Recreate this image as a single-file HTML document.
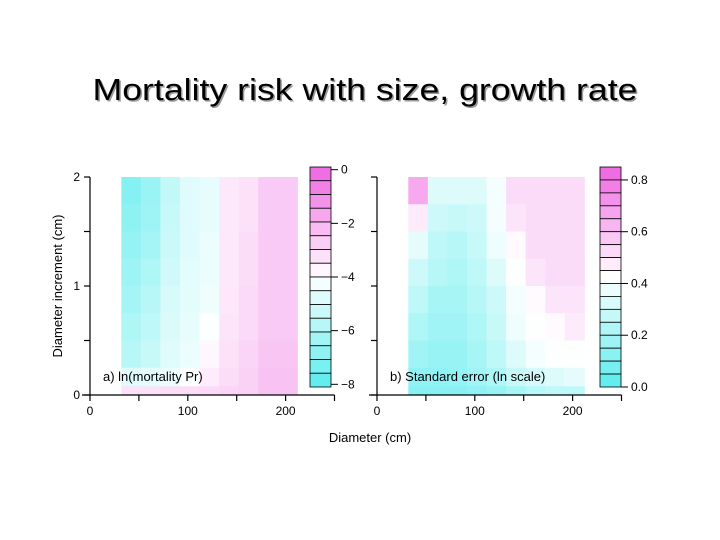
<!DOCTYPE html>
<html><head><meta charset="utf-8">
<style>
html,body{margin:0;padding:0;background:#fff;}
svg{display:block;font-family:"Liberation Sans",sans-serif;}
</style></head>
<body>
<svg id="chart" width="720" height="540" viewBox="0 0 720 540">
<text x="365" y="100" text-anchor="middle" font-size="31" fill="#999" transform="translate(1.5,1.5)" textLength="545" lengthAdjust="spacingAndGlyphs">Mortality risk with size, growth rate</text>
<text x="365" y="100" text-anchor="middle" font-size="31" fill="#000" textLength="545" lengthAdjust="spacingAndGlyphs">Mortality risk with size, growth rate</text>
<g id="pA"></g>
<g id="pB"></g>
<text x="370" y="442" text-anchor="middle" font-size="13">Diameter (cm)</text>
<text transform="translate(62,286) rotate(-90)" text-anchor="middle" font-size="13">Diameter increment (cm)</text>
</svg>
<script>
// Grid: diameter columns (cm) and increment rows (cm), top row first
const diamEdges = [32, 52, 72, 92, 112, 132, 152, 172, 192, 212];
const incEdges = [2.0, 1.75, 1.5, 1.25, 1.0, 0.75, 0.5, 0.25, 0.08, 0];
// panel a: ln(mortality Pr)
const lnMort = [
 [-7.0,-6.5,-5.5,-4.8,-4.6,-3.4,-3.2,-2.6,-2.6],
 [-6.8,-6.4,-5.4,-4.8,-4.6,-3.4,-3.2,-2.6,-2.6],
 [-6.6,-6.2,-5.3,-4.8,-4.5,-3.4,-3.1,-2.6,-2.6],
 [-6.4,-6.0,-5.2,-4.7,-4.5,-3.4,-3.1,-2.6,-2.6],
 [-6.2,-5.8,-5.0,-4.7,-4.4,-3.4,-3.0,-2.6,-2.6],
 [-6.0,-5.6,-4.9,-4.6,-4.1,-3.3,-3.0,-2.6,-2.6],
 [-5.8,-5.4,-4.8,-4.5,-3.8,-3.2,-2.9,-2.5,-2.5],
 [-4.8,-4.7,-4.5,-4.1,-3.5,-3.1,-2.8,-2.4,-2.4],
 [-3.2,-3.2,-3.1,-3.1,-3.0,-2.9,-2.8,-2.4,-2.4]
];
// panel b: standard error (ln scale)
const stdErr = [
 [0.66,0.34,0.34,0.34,0.40,0.52,0.52,0.52,0.52],
 [0.48,0.30,0.28,0.30,0.40,0.50,0.52,0.52,0.52],
 [0.36,0.26,0.24,0.28,0.38,0.44,0.52,0.52,0.52],
 [0.30,0.24,0.22,0.26,0.34,0.42,0.50,0.52,0.52],
 [0.26,0.20,0.20,0.24,0.30,0.40,0.44,0.50,0.50],
 [0.22,0.18,0.18,0.22,0.28,0.38,0.42,0.44,0.48],
 [0.18,0.16,0.16,0.20,0.26,0.34,0.40,0.42,0.42],
 [0.14,0.14,0.15,0.18,0.22,0.28,0.32,0.34,0.36],
 [0.12,0.12,0.12,0.14,0.16,0.20,0.24,0.26,0.26]
];
const xTicks = [0, 100, 200];
const aTicks = [0, -2, -4, -6, -8];
const bTicks = [0.8, 0.6, 0.4, 0.2, 0.0];

const NS = "http://www.w3.org/2000/svg";
function el(tag, attrs, parent){const e=document.createElementNS(NS,tag);for(const k in attrs)e.setAttribute(k,attrs[k]);parent.appendChild(e);return e;}
function mix(a,b,t){return 'rgb('+a.map((v,i)=>Math.round(v+(b[i]-v)*t)).join(',')+')';}
const CY=[90,236,238], WH=[255,255,255], MG=[238,100,225];
function colorOf(t){ // t in 0..1, 0.5 white
  if(t<0.5) return mix(CY,WH,Math.max(0,t)/0.5);
  return mix(WH,MG,Math.min(1,(t-0.5)/0.5));
}
function panel(g, x0, vals, vmin, vmax, cbX, ticks, tickFmt, label, nb){
  const xs = d => x0 + d*0.978;
  const ys = v => 395 - v*109;
  for(let r=0;r<vals.length;r++){
    for(let c=0;c<vals[r].length;c++){
      const xa=xs(diamEdges[c]), xb=xs(diamEdges[c+1]);
      const ya=ys(incEdges[r]), yb=ys(incEdges[r+1]);
      const cell=el('rect',{x:xa,y:ya,width:xb-xa+0.5,height:yb-ya+0.5,fill:colorOf((vals[r][c]-vmin)/(vmax-vmin))},g);
      
      
    }
  }
  const ax=el('g',{stroke:'#000','stroke-width':1.2},g);
  
  
  el('line',{x1:x0,y1:177,x2:x0,y2:396},ax);
  el('line',{x1:x0-8,y1:395,x2:xs(250),y2:395},ax);
  for(let v=0;v<=2;v+=0.5) el('line',{x1:x0-6,y1:ys(v),x2:x0,y2:ys(v)},ax);
  for(let d=0;d<=250;d+=50) el('line',{x1:xs(d),y1:395,x2:xs(d),y2:401},ax);
  xTicks.forEach(d=>{const t=el('text',{x:xs(d),y:415,'text-anchor':'middle','font-size':12},g);t.textContent=d;
    });
  if(x0<200){[0,1,2].forEach(v=>{const t=el('text',{x:x0-10,y:ys(v)+4,'text-anchor':'end','font-size':12},g);t.textContent=v;
    });}
  const lb=el('text',{x:x0+13,y:381,'font-size':13},g);lb.textContent=label;
  
  const cb=el('g',{},g);
  
  
  const top=167, bot=387, h=(bot-top)/nb;
  for(let i=0;i<nb;i++){
    el('rect',{x:cbX,y:top+i*h,width:21,height:h,fill:colorOf(1-(i+0.5)/nb),stroke:'#000','stroke-width':0.8},cb);
  }
  ticks.forEach(v=>{
    const y = bot - (v-vmin)/(vmax-vmin)*(bot-top);
    el('line',{x1:cbX+21,y1:y,x2:cbX+28,y2:y,stroke:'#000','stroke-width':1},cb);
    const t=el('text',{x:cbX+31,y:y+4,'font-size':12},cb);t.textContent=tickFmt(v);
    
  });
}
panel(document.getElementById('pA'),90,lnMort,-8.1,0.1,310,aTicks,v=>v===0?'0':'\u2212'+Math.abs(v),'a) ln(mortality Pr)',16);
panel(document.getElementById('pB'),377,stdErr,0,0.85,600,bTicks,v=>v.toFixed(1),'b) Standard error (ln scale)',17);
</script>
</body></html>
